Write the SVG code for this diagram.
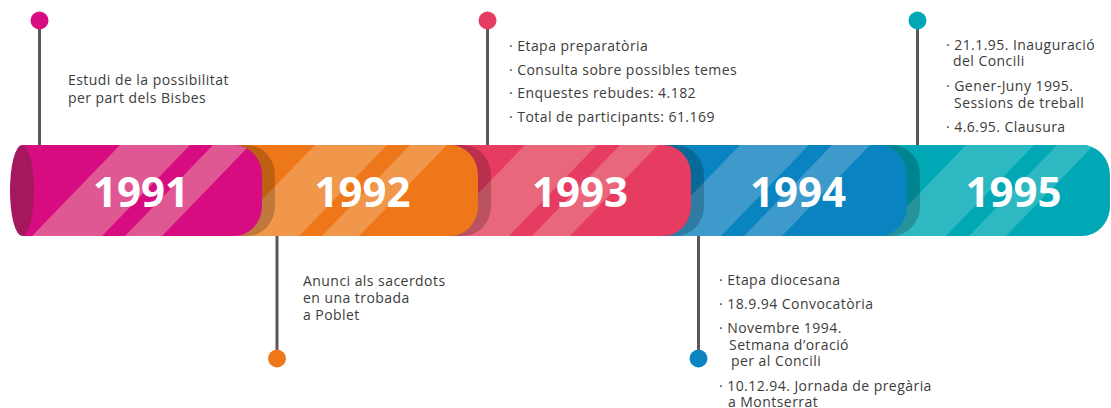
<svg xmlns="http://www.w3.org/2000/svg" width="1111" height="408" viewBox="0 0 1111 408">
<style>
.t{font-family:"Open Sans","Liberation Sans",sans-serif;font-size:14px;letter-spacing:0.45px;fill:#3c3c3b}
.yr{font-family:"Open Sans","Liberation Sans",sans-serif;font-size:42px;font-weight:700;fill:#ffffff;text-anchor:middle}
.ln{stroke:#5f5657;stroke-width:3;fill:none}
.sh{fill:#000000;opacity:0.2}
</style>
<defs>
<clipPath id="c1"><path d="M22 145 H234 A28 30 0 0 1 262 175 V206 A28 30 0 0 1 234 236 H22 Z"/></clipPath>
<clipPath id="c2"><path d="M200 145 H450 A28 30 0 0 1 478 175 V206 A28 30 0 0 1 450 236 H200 Z"/></clipPath>
<clipPath id="c3"><path d="M420 145 H663 A28 30 0 0 1 691 175 V206 A28 30 0 0 1 663 236 H420 Z"/></clipPath>
<clipPath id="c4"><path d="M630 145 H879 A28 30 0 0 1 907 175 V206 A28 30 0 0 1 879 236 H630 Z"/></clipPath>
<clipPath id="c5"><path d="M850 145 H1082 A28 30 0 0 1 1110 175 V206 A28 30 0 0 1 1082 236 H850 Z"/></clipPath>
</defs>

<g id="seg-1995">
<path d="M850 145 H1082 A28 30 0 0 1 1110 175 V206 A28 30 0 0 1 1082 236 H850 Z" fill="#00a7b4"/>
<g clip-path="url(#c5)" fill="#2eb8c2">
<polygon points="966,145 1034,145 946,236 878,236"/>
<polygon points="1057,145 1094,145 1006,236 969,236"/>
</g>
</g>
<path class="sh" d="M643 145 H892 A28 30 0 0 1 920 175 V206 A28 30 0 0 1 892 236 H643 Z"/>
<g id="seg-1994">
<path d="M630 145 H879 A28 30 0 0 1 907 175 V206 A28 30 0 0 1 879 236 H630 Z" fill="#0a84c0"/>
<g clip-path="url(#c4)" fill="#3d9acb">
<polygon points="740,145 809,145 721,236 652,236"/>
<polygon points="832,145 870,145 782,236 744,236"/>
</g>
</g>
<path class="sh" d="M433 145 H676 A28 30 0 0 1 704 175 V206 A28 30 0 0 1 676 236 H433 Z"/>
<g id="seg-1993">
<path d="M420 145 H663 A28 30 0 0 1 691 175 V206 A28 30 0 0 1 663 236 H420 Z" fill="#e63c62"/>
<g clip-path="url(#c3)" fill="#e9677a">
<polygon points="525,145 597,145 509,236 437,236"/>
<polygon points="620,145 658,145 570,236 532,236"/>
</g>
</g>
<path class="sh" d="M213 145 H463 A28 30 0 0 1 491 175 V206 A28 30 0 0 1 463 236 H213 Z"/>
<g id="seg-1992">
<path d="M200 145 H450 A28 30 0 0 1 478 175 V206 A28 30 0 0 1 450 236 H200 Z" fill="#ee7819"/>
<g clip-path="url(#c2)" fill="#f0974b">
<polygon points="315,145 387,145 299,236 227,236"/>
<polygon points="410,145 447,145 359,236 322,236"/>
</g>
</g>
<path class="sh" d="M35 145 H247 A28 30 0 0 1 275 175 V206 A28 30 0 0 1 247 236 H35 Z"/>
<g id="seg-1991">
<path d="M22 145 H234 A28 30 0 0 1 262 175 V206 A28 30 0 0 1 234 236 H22 Z" fill="#d80c81"/>
<g clip-path="url(#c1)" fill="#df5894">
<polygon points="120,145 190,145 102,236 32,236"/>
<polygon points="213,145 250,145 162,236 125,236"/>
</g>
<ellipse cx="22" cy="190.5" rx="12" ry="45.5" fill="#a6185e"/>
</g>

<g id="year-labels">
<text class="yr" x="141" y="207">1991</text>
<text class="yr" x="362.5" y="207">1992</text>
<text class="yr" x="580" y="207">1993</text>
<text class="yr" x="798" y="207">1994</text>
<text class="yr" x="1013.5" y="207">1995</text>
</g>

<g id="connectors">
<line class="ln" x1="39.5" y1="20.5" x2="39.5" y2="145"/>
<line class="ln" x1="277" y1="236" x2="277" y2="358.5"/>
<line class="ln" x1="487.5" y1="20.5" x2="487.5" y2="145"/>
<line class="ln" x1="698.5" y1="236" x2="698.5" y2="358.5"/>
<line class="ln" x1="917.5" y1="20.5" x2="917.5" y2="145"/>
</g>

<g id="note-1991">
<circle cx="39.5" cy="20.5" r="9" fill="#d80c81"/>
<text class="t" x="68" y="85">Estudi de la possibilitat</text>
<text class="t" x="68" y="103">per part dels Bisbes</text>
</g>

<g id="note-1992">
<circle cx="277" cy="358.5" r="9" fill="#ee7819"/>
<text class="t" x="303" y="286">Anunci als sacerdots</text>
<text class="t" x="303" y="303">en una trobada</text>
<text class="t" x="303" y="320">a Poblet</text>
</g>

<g id="note-1993">
<circle cx="487.5" cy="20.5" r="9" fill="#e63c62"/>
<text class="t" x="509" y="51">· Etapa preparatòria</text>
<text class="t" x="509" y="74.5">· Consulta sobre possibles temes</text>
<text class="t" x="509" y="98">· Enquestes rebudes: 4.182</text>
<text class="t" x="509" y="121.5">· Total de participants: 61.169</text>
</g>

<g id="note-1994">
<circle cx="698.5" cy="358.5" r="9" fill="#0a84c0"/>
<text class="t" x="719" y="285">· Etapa diocesana</text>
<text class="t" x="719" y="309">· 18.9.94 Convocatòria</text>
<text class="t" x="719" y="333">· Novembre 1994.</text>
<text class="t" x="729" y="350">Setmana d’oració</text>
<text class="t" x="731" y="366">per al Concili</text>
<text class="t" x="719" y="391">· 10.12.94. Jornada de pregària</text>
<text class="t" x="728" y="407">a Montserrat</text>
</g>

<g id="note-1995">
<circle cx="917.5" cy="20.5" r="9" fill="#00a7b4"/>
<text class="t" x="946" y="50">· 21.1.95. Inauguració</text>
<text class="t" x="953" y="66">del Concili</text>
<text class="t" x="946" y="91">· Gener-Juny 1995.</text>
<text class="t" x="954" y="108">Sessions de treball</text>
<text class="t" x="946" y="132">· 4.6.95. Clausura</text>
</g>
</svg>
